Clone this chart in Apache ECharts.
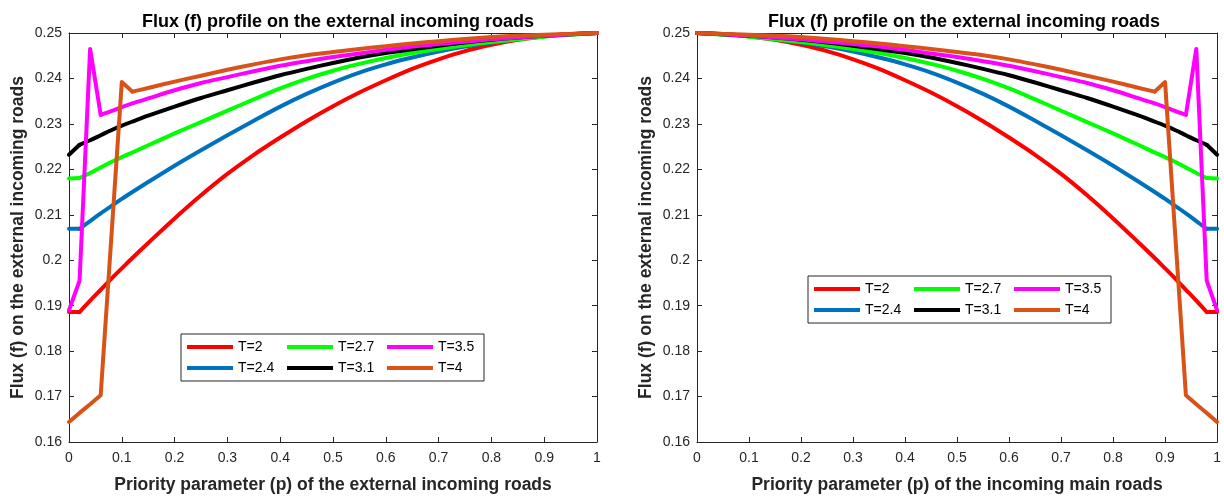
<!DOCTYPE html>
<html><head><meta charset="utf-8">
<script src="https://cdn.jsdelivr.net/npm/echarts@6/dist/echarts.min.js"></script>
<style>html,body{margin:0;padding:0;background:#fff}#c{width:1224px;height:499px}</style>
</head><body><div id="c"></div>
<script>
// ---------- data ----------
const seriesNames = ['T=2', 'T=2.4', 'T=2.7', 'T=3.1', 'T=3.5', 'T=4'];
const seriesColors = ['#FF0000', '#0072BD', '#00FF00', '#000000', '#FF00FF', '#D95319'];
const xTicks = [0, 0.1, 0.2, 0.3, 0.4, 0.5, 0.6, 0.7, 0.8, 0.9, 1];
const yTicks = [0.16, 0.17, 0.18, 0.19, 0.2, 0.21, 0.22, 0.23, 0.24, 0.25];

// Left panel: priority of external incoming roads
const pLeft = [0, 0.02, 0.04, 0.06, 0.08, 0.1, 0.12, 0.15, 0.2, 0.25, 0.3, 0.35, 0.4, 0.45, 0.5, 0.55, 0.6, 0.65, 0.7, 0.75, 0.8, 0.85, 0.9, 0.95, 1];
const leftT2  = [0.1886,0.1886,0.1911,0.1935,0.1959,0.1982,0.2005,0.2038,0.2092,0.2143,0.2190,0.2232,0.2270,0.2306,0.2339,0.2369,0.2396,0.2421,0.2442,0.2460,0.2474,0.2485,0.2493,0.2498,0.25];
const leftT24 = [0.2069,0.2069,0.2086,0.2103,0.2119,0.2135,0.2150,0.2172,0.2208,0.2242,0.2275,0.2307,0.2338,0.2366,0.2391,0.2413,0.2431,0.2446,0.2459,0.2470,0.2479,0.2487,0.2493,0.2497,0.25];
const leftT27 = [0.2180,0.2181,0.2192,0.2204,0.2216,0.2227,0.2237,0.2253,0.2279,0.2304,0.2329,0.2354,0.2378,0.2399,0.2417,0.2432,0.2445,0.2456,0.2465,0.2473,0.2480,0.2486,0.2492,0.2496,0.25];
const leftT31 = [0.2232,0.2254,0.2264,0.2275,0.2286,0.2296,0.2305,0.2318,0.2338,0.2357,0.2374,0.2391,0.2407,0.2421,0.2434,0.2446,0.2456,0.2464,0.2472,0.2479,0.2485,0.2490,0.2494,0.2497,0.25];
const leftT35 = [0.1890,0.1955,0.2465,0.2320,0.2328,0.2337,0.2345,0.2356,0.2374,0.2390,0.2403,0.2416,0.2428,0.2438,0.2447,0.2455,0.2463,0.2470,0.2476,0.2481,0.2486,0.2490,0.2494,0.2497,0.25];
const leftT4  = [0.1644,0.1664,0.1683,0.1703,0.2047,0.2392,0.2371,0.2379,0.2393,0.2406,0.2419,0.2431,0.2442,0.2451,0.2458,0.2465,0.2471,0.2477,0.2482,0.2487,0.2491,0.2494,0.2496,0.2498,0.25];
// index in pLeft where each curve's kinked start ends and the smooth part begins
const leftKinkIdx = [1, 1, 1, 1, 3, 6];

// Right panel: priority of incoming main roads
const pRight = [0, 0.05, 0.1, 0.15, 0.2, 0.25, 0.3, 0.35, 0.4, 0.45, 0.5, 0.55, 0.6, 0.65, 0.7, 0.75, 0.8, 0.85, 0.88, 0.9, 0.92, 0.94, 0.96, 0.98, 1];
const rightT2  = [0.25,0.2498,0.2493,0.2485,0.2474,0.2460,0.2442,0.2421,0.2396,0.2369,0.2339,0.2306,0.2270,0.2232,0.2190,0.2143,0.2092,0.2038,0.2005,0.1982,0.1959,0.1935,0.1911,0.1886,0.1886];
const rightT24 = [0.25,0.2497,0.2493,0.2487,0.2479,0.2470,0.2459,0.2446,0.2431,0.2413,0.2391,0.2366,0.2338,0.2307,0.2275,0.2242,0.2208,0.2172,0.2150,0.2135,0.2119,0.2103,0.2086,0.2069,0.2069];
const rightT27 = [0.25,0.2496,0.2492,0.2486,0.2480,0.2473,0.2465,0.2456,0.2445,0.2432,0.2417,0.2399,0.2378,0.2354,0.2329,0.2304,0.2279,0.2253,0.2237,0.2227,0.2216,0.2204,0.2192,0.2181,0.2180];
const rightT31 = [0.25,0.2497,0.2494,0.2490,0.2485,0.2479,0.2472,0.2464,0.2456,0.2446,0.2434,0.2421,0.2407,0.2391,0.2374,0.2357,0.2338,0.2318,0.2305,0.2296,0.2286,0.2275,0.2264,0.2254,0.2232];
const rightT35 = [0.25,0.2497,0.2494,0.2490,0.2486,0.2481,0.2476,0.2470,0.2463,0.2455,0.2447,0.2438,0.2428,0.2416,0.2403,0.2390,0.2374,0.2356,0.2345,0.2337,0.2328,0.2320,0.2465,0.1955,0.1890];
const rightT4  = [0.25,0.2498,0.2496,0.2494,0.2491,0.2487,0.2482,0.2477,0.2471,0.2465,0.2458,0.2451,0.2442,0.2431,0.2419,0.2406,0.2393,0.2379,0.2371,0.2392,0.2047,0.1703,0.1683,0.1664,0.1644];
// index in pRight where each curve's smooth part ends and the kinked tail begins
const rightKinkIdx = [23, 23, 23, 23, 21, 18];

const titleText = 'Flux (f) profile on the external incoming roads';
const yName = 'Flux (f) on the external incoming roads';
const xNameLeft = 'Priority parameter (p) of the external incoming roads';
const xNameRight = 'Priority parameter (p) of the incoming main roads';

// ---------- chart ----------
const FONT = '"Liberation Sans", Arial, Helvetica, sans-serif';
const AX = '#262626';
const LW = 4;
const leftSets = [leftT2, leftT24, leftT27, leftT31, leftT35, leftT4];
const rightSets = [rightT2, rightT24, rightT27, rightT31, rightT35, rightT4];

function xAxisDef(gi, pos, name) {
  const main = pos === 'bottom';
  return {
    type: 'value', gridIndex: gi, position: pos,
    min: xTicks[0], max: xTicks[xTicks.length - 1], interval: 0.1,
    name: main ? name : '', nameLocation: 'middle', nameGap: 34,
    nameTextStyle: { fontFamily: FONT, fontSize: 17.5, fontWeight: 'bold', color: AX },
    axisLine: { show: true, onZero: false, lineStyle: { color: AX, width: 1 } },
    axisTick: { show: true, inside: true, length: 5, lineStyle: { color: AX } },
    axisLabel: { show: main, margin: 9, fontFamily: FONT, fontSize: 14, color: AX },
    splitLine: { show: false }
  };
}
function yAxisDef(gi, pos, name) {
  const main = pos === 'left';
  return {
    type: 'value', gridIndex: gi, position: pos,
    min: yTicks[0], max: yTicks[yTicks.length - 1], interval: 0.01,
    name: main ? name : '', nameLocation: 'middle', nameGap: 42,
    nameTextStyle: { fontFamily: FONT, fontSize: 17.5, fontWeight: 'bold', color: AX },
    axisLine: { show: true, onZero: false, lineStyle: { color: AX, width: 1 } },
    axisTick: { show: true, inside: true, length: 5, lineStyle: { color: AX } },
    axisLabel: { show: main, margin: 7, fontFamily: FONT, fontSize: 14, color: AX },
    splitLine: { show: false }
  };
}
function legendDef(left, top) {
  return {
    left: left, top: top, width: 300,
    orient: 'horizontal',
    data: [seriesNames[0], seriesNames[2], seriesNames[4], seriesNames[1], seriesNames[3], seriesNames[5]].map(n => ({ name: n })),
    icon: 'rect', itemWidth: 46, itemHeight: 4, itemGap: 7,
    padding: [6, 4, 6, 6],
    backgroundColor: '#fff', borderColor: AX, borderWidth: 1, borderRadius: 0,
    textStyle: { fontFamily: FONT, fontSize: 14, color: '#000', width: 42, lineHeight: 14 },
    selectedMode: false
  };
}

function lineSeries(name, i, xi, pts, smooth) {
  return {
    name: name, type: 'line', xAxisIndex: xi, yAxisIndex: xi,
    data: pts, showSymbol: false, symbol: 'none',
    smooth: smooth ? 0.3 : false,
    lineStyle: { color: seriesColors[i], width: LW, cap: 'round', join: 'round' },
    itemStyle: { color: seriesColors[i] },
    z: 2 + i
  };
}

const series = [];
seriesNames.forEach((n, i) => {
  const pts = pLeft.map((p, k) => [p, leftSets[i][k]]);
  const k = leftKinkIdx[i];
  series.push(lineSeries(n, i, 0, pts.slice(0, k + 1), false));
  series.push(lineSeries(n, i, 0, pts.slice(k), true));
});
seriesNames.forEach((n, i) => {
  const pts = pRight.map((p, k) => [p, rightSets[i][k]]);
  const k = rightKinkIdx[i];
  series.push(lineSeries(n, i, 2, pts.slice(0, k + 1), true));
  series.push(lineSeries(n, i, 2, pts.slice(k), false));
});

const chart = echarts.init(document.getElementById('c'), null, { renderer: 'canvas' });
chart.setOption({
  animation: false,
  backgroundColor: '#fff',
  title: [
    { text: titleText, left: 333, top: 8, textAlign: 'center',
      textStyle: { fontFamily: FONT, fontSize: 18, fontWeight: 'bold', color: '#000' } },
    { text: titleText, left: 959, top: 8, textAlign: 'center',
      textStyle: { fontFamily: FONT, fontSize: 18, fontWeight: 'bold', color: '#000' } }
  ],
  grid: [
    { left: 69, right: 627, top: 33, bottom: 55, containLabel: false },
    { left: 697, right: 3, top: 33, bottom: 55, containLabel: false }
  ],
  xAxis: [xAxisDef(0, 'bottom', xNameLeft), xAxisDef(0, 'top'), xAxisDef(1, 'bottom', xNameRight), xAxisDef(1, 'top')],
  yAxis: [yAxisDef(0, 'left', yName), yAxisDef(0, 'right'), yAxisDef(1, 'left', yName), yAxisDef(1, 'right')],
  legend: [legendDef(181, 334), legendDef(808, 276)],
  series: series
});
</script>
</body></html>
